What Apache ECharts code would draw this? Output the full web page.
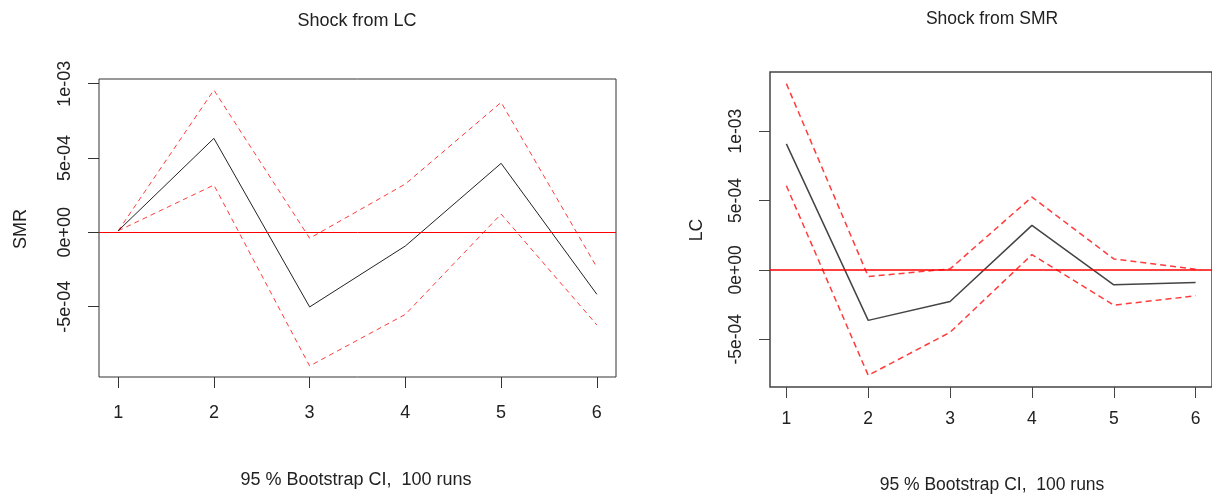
<!DOCTYPE html>
<html>
<head>
<meta charset="utf-8">
<script src="https://cdn.jsdelivr.net/npm/echarts@6/dist/echarts.min.js"></script>
<style>
  html, body { margin: 0; padding: 0; background: #fff; }
  #chart { width: 1212px; height: 496px; }
</style>
</head>
<body>
<div id="chart"></div>
<script>
// horizons (x axis)
const horizons = [1, 2, 3, 4, 5, 6]

// shock from LC, response of SMR
const lcSmrIrf = [1e-5, 6.32e-4, -5.02e-4, -0.92e-4, 4.64e-4, -4.17e-4]
const lcSmrUpper = [1e-5, 9.57e-4, -0.4e-4, 3.25e-4, 8.74e-4, -2.35e-4]
const lcSmrLower = [1e-5, 3.18e-4, -8.99e-4, -5.52e-4, 1.23e-4, -6.23e-4]

// shock from SMR, response of LC
const smrLcIrf = [9.08e-4, -3.64e-4, -2.28e-4, 3.21e-4, -1.08e-4, -0.91e-4]
const smrLcUpper = [1.342e-3, -0.48e-4, 0.07e-4, 5.25e-4, 0.79e-4, 0.05e-4]
const smrLcLower = [6.06e-4, -7.6e-4, -4.5e-4, 1.10e-4, -2.54e-4, -1.87e-4]

// tick labels
const yTicks = [-5e-4, 0, 5e-4, 1e-3]
const yTickLabels = ['-5e-04', '0e+00', '5e-04', '1e-03']

const font = '"Liberation Sans", Arial, sans-serif'
const textColor = '#222'

// R style range: data range padded by 4%
function rRange(arrs) {
  let all = [].concat(...arrs)
  let lo = Math.min(...all), hi = Math.max(...all)
  let pad = (hi - lo) * 0.04
  return [lo - pad, hi + pad]
}
const xRange = rRange([horizons])
const leftY = rRange([lcSmrIrf, lcSmrUpper, lcSmrLower])
const rightY = rRange([smrLcIrf, smrLcUpper, smrLcLower])

const pairs = ys => horizons.map((h, i) => [h, ys[i]])

function xAxisFor(idx, size, margin, tickColor) {
  return {
    type: 'value', gridIndex: idx, min: xRange[0], max: xRange[1], position: 'bottom',
    axisLine: { show: false, onZero: false },
    splitLine: { show: false },
    axisTick: { show: true, length: 11, customValues: horizons, lineStyle: { color: tickColor } },
    axisLabel: { customValues: horizons, margin: margin, fontSize: size, fontFamily: font, color: textColor }
  }
}
function yAxisFor(idx, range, size, tickColor) {
  return {
    type: 'value', gridIndex: idx, min: range[0], max: range[1], position: 'left',
    axisLine: { show: false, onZero: false },
    splitLine: { show: false },
    axisTick: { show: true, length: 11, customValues: yTicks, lineStyle: { color: tickColor } },
    axisLabel: {
      customValues: yTicks, rotate: 90, margin: 25, fontSize: size, fontFamily: font, color: textColor,
      formatter: v => {
        let i = yTicks.findIndex(t => Math.abs(t - v) < 1e-9)
        return i >= 0 ? yTickLabels[i] : ''
      }
    }
  }
}

function bandSeries(idx, ys, width, dash) {
  return {
    type: 'line', xAxisIndex: idx, yAxisIndex: idx, data: pairs(ys),
    symbol: 'none', silent: true,
    lineStyle: { color: '#ff3b3b', width: width, type: dash }
  }
}
function irfSeries(idx, ys, width, color) {
  return {
    type: 'line', xAxisIndex: idx, yAxisIndex: idx, data: pairs(ys),
    symbol: 'none', silent: true, z: 3,
    lineStyle: { color: color, width: width },
    markLine: {
      silent: true, symbol: 'none', label: { show: false }, animation: false,
      lineStyle: { color: '#ff0000', width: width, type: 'solid' },
      data: [{ yAxis: 0 }]
    }
  }
}

function label(text, x, y, size, rot) {
  return {
    type: 'text', x: x, y: y, rotation: rot || 0, silent: true,
    style: { text: text, fill: textColor, font: size + 'px ' + font, textAlign: 'center', textVerticalAlign: 'middle' }
  }
}

let myChart = echarts.init(document.getElementById('chart'))
let option = {
  animation: false,
  backgroundColor: '#fff',
  grid: [
    { left: 99, top: 79, width: 517, height: 298, show: true, borderColor: '#333', borderWidth: 1, backgroundColor: 'transparent' },
    { left: 770, top: 72, width: 447, height: 315, show: true, borderColor: '#444', borderWidth: 1.5, backgroundColor: 'transparent' }
  ],
  xAxis: [xAxisFor(0, 18, 27, '#333'), xAxisFor(1, 17.5, 23, '#444')],
  yAxis: [yAxisFor(0, leftY, 18, '#333'), yAxisFor(1, rightY, 17.5, '#444')],
  series: [
    bandSeries(0, lcSmrUpper, 1, [5, 4]),
    bandSeries(0, lcSmrLower, 1, [5, 4]),
    irfSeries(0, lcSmrIrf, 1, '#222'),
    bandSeries(1, smrLcUpper, 1.5, [6, 4]),
    bandSeries(1, smrLcLower, 1.5, [6, 4]),
    irfSeries(1, smrLcIrf, 1.5, '#444')
  ],
  graphic: [
    label('Shock from LC', 357, 21, 18),
    label('Shock from SMR', 992, 19, 17.5),
    label('95 % Bootstrap CI,  100 runs', 356, 480, 18),
    label('95 % Bootstrap CI,  100 runs', 992, 485, 17.5),
    label('SMR', 21, 229, 18, Math.PI / 2),
    label('LC', 697, 230, 17.5, Math.PI / 2)
  ]
}
myChart.setOption(option)
</script>
</body>
</html>
